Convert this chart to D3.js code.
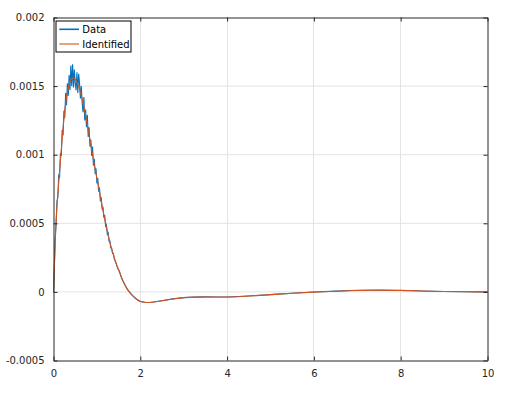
<!DOCTYPE html>
<meta charset="utf-8">
<style>
body { margin: 0; background: #fff; }
svg { display: block; font-family: "DejaVu Sans", sans-serif; }
.tick text { font-size: 10px; fill: #262626; }
</style>
<body>
<svg width="525" height="400"></svg>
<script src="https://d3js.org/d3.v7.min.js"></script>
<script>
// measured data (dense near the peak, sparse in the tail)
var dataT = [0, 0.02, 0.04, 0.06, 0.08, 0.10, 0.12, 0.14, 0.16, 0.18, 0.20, 0.22, 0.24, 0.26, 0.28, 0.30,
  0.32, 0.34, 0.36, 0.38, 0.40, 0.42, 0.44, 0.46, 0.48, 0.50, 0.52, 0.54, 0.56, 0.58, 0.60,
  0.62, 0.64, 0.66, 0.68, 0.70, 0.72, 0.74, 0.76, 0.78, 0.80, 0.82, 0.84, 0.86, 0.88, 0.90,
  0.92, 0.94, 0.96, 0.98, 1.00, 1.02, 1.04, 1.06, 1.08, 1.10, 1.12, 1.14, 1.16, 1.18, 1.20,
  1.22, 1.24, 1.26, 1.28, 1.30, 1.32, 1.34, 1.36, 1.38, 1.40, 1.44, 1.48, 1.52, 1.56, 1.60,
  1.7, 1.8, 1.9, 2.0, 2.1, 2.2, 2.3, 2.5, 2.75, 3.0, 3.25, 3.5, 3.75, 4.0, 4.25, 4.5, 4.75,
  5.0, 5.5, 6.0, 6.5, 7.0, 7.5, 8.0, 8.5, 9.0, 9.5, 10];
var dataY = [0, 0.00018, 0.00040, 0.00049, 0.00066, 0.00069, 0.00085, 0.00084, 0.00101, 0.00099, 0.00118,
  0.00114, 0.00132, 0.00127, 0.00145, 0.00136, 0.00152, 0.00143, 0.00158, 0.00147, 0.00165,
  0.00150, 0.00166, 0.00149, 0.00162, 0.00152, 0.00147, 0.00160, 0.00145, 0.00159, 0.00152,
  0.00141, 0.00150, 0.00138, 0.00131, 0.00142, 0.00125, 0.00133, 0.00120, 0.00129, 0.00113,
  0.00120, 0.00106, 0.00111, 0.00099, 0.00106, 0.00092, 0.00097, 0.00086, 0.00090, 0.00079,
  0.00083, 0.00073, 0.00076, 0.00066, 0.00069, 0.00060, 0.00062, 0.00054, 0.00056, 0.00048,
  0.00049, 0.00042, 0.00043, 0.00037, 0.00037, 0.00032, 0.00032, 0.00028, 0.00028, 0.00024,
  0.00021, 0.00017, 0.00015, 0.00011, 0.00008,
  0.00002, -0.00002, -0.00005, -0.00007, -0.000075, -0.000077, -0.000074, -0.000064, -0.000051,
  -0.000042, -0.000038, -0.000036, -0.000037, -0.000037, -0.000034, -0.00003, -0.000025,
  -0.00002, -0.00001, -0.000001, 0.000006, 0.000012, 0.000013, 0.000011, 0.000007, 0.000003, 0.000001, 0];

// identified model response
var idT = [0, 0.025, 0.05, 0.075, 0.1, 0.15, 0.2, 0.25, 0.3, 0.35, 0.4, 0.45, 0.5, 0.55, 0.6, 0.65,
  0.7, 0.75, 0.8, 0.85, 0.9, 0.95, 1.0, 1.05, 1.1, 1.15, 1.2, 1.3, 1.4, 1.5, 1.6, 1.7, 1.8, 1.9,
  2.0, 2.1, 2.2, 2.3, 2.5, 2.75, 3.0, 3.25, 3.5, 3.75, 4.0, 4.25, 4.5, 4.75, 5.0, 5.5, 6.0, 6.5,
  7.0, 7.5, 8.0, 8.5, 9.0, 9.5, 10];
var idY = [0, 0.00024, 0.00045, 0.00060, 0.00071, 0.00092, 0.00112, 0.00129, 0.00142, 0.00150,
  0.00155, 0.00156, 0.00155, 0.00152, 0.00148, 0.00142, 0.00135, 0.00127, 0.00118, 0.00109,
  0.00100, 0.00091, 0.00083, 0.00075, 0.00066, 0.00058, 0.00050, 0.00036, 0.00025, 0.00016,
  0.00008, 0.00002, -0.00002, -0.00005, -0.00007, -0.000075, -0.000077, -0.000074, -0.000064,
  -0.000052, -0.000042, -0.000038, -0.000037, -0.000037, -0.000037, -0.000035, -0.00003,
  -0.000025, -0.00002, -0.00001, -0.000002, 0.000005, 0.00001, 0.000012, 0.00001, 0.000007,
  0.000003, 0.000001, 0];

var xTicks = [0, 2, 4, 6, 8, 10];
var yTicks = [-0.0005, 0, 0.0005, 0.001, 0.0015, 0.002];
var yTickLabels = ["-0.0005", "0", "0.0005", "0.001", "0.0015", "0.002"];
var seriesNames = ["Data", "Identified"];
var colors = ["#0072bd", "#d95319"];

var svg = d3.select("svg"),
    margin = {top: 17.5, right: 37.5, bottom: 39.5, left: 53.5},
    width = +svg.attr("width") - margin.left - margin.right,
    height = +svg.attr("height") - margin.top - margin.bottom;

var x = d3.scaleLinear().domain([0, 10]).range([0, width]),
    y = d3.scaleLinear().domain([-0.0005, 0.002]).range([height, 0]);

var g = svg.append("g")
    .attr("transform", "translate(" + margin.left + "," + margin.top + ")");

// grid
g.append("g").selectAll("line").data(xTicks.slice(1, -1)).enter().append("line")
    .attr("x1", function(d) { return Math.round(x(d)) + 0.5 - 0.5; })
    .attr("x2", function(d) { return Math.round(x(d)) + 0.5 - 0.5; })
    .attr("y1", 0).attr("y2", height)
    .attr("stroke", "#e3e3e3").attr("stroke-width", 1);
g.append("g").selectAll("line").data(yTicks.slice(1, -1)).enter().append("line")
    .attr("y1", function(d) { return y(d); })
    .attr("y2", function(d) { return y(d); })
    .attr("x1", 0).attr("x2", width)
    .attr("stroke", "#e3e3e3").attr("stroke-width", 1);

// lines
var line = d3.line()
    .x(function(d) { return x(d[0]); })
    .y(function(d) { return y(d[1]); });

g.append("path")
    .datum(d3.zip(dataT, dataY))
    .attr("fill", "none")
    .attr("stroke", colors[0])
    .attr("stroke-width", 1.1)
    .attr("d", line);

g.append("path")
    .datum(d3.zip(idT, idY))
    .attr("fill", "none")
    .attr("stroke", colors[1])
    .attr("stroke-width", 1.1)
    .attr("d", line.curve(d3.curveMonotoneX));

// axes (ticks inside, mirrored on top/right)
var fmtY = function(d) { return yTickLabels[yTicks.indexOf(d)]; };

function styleAxis(sel) {
  sel.select(".domain").attr("stroke", "#262626");
  sel.selectAll(".tick line").attr("stroke", "#262626");
}

g.append("g")
    .attr("transform", "translate(0," + height + ")")
    .call(d3.axisBottom(x).tickValues(xTicks).tickSizeInner(-4).tickSizeOuter(0).tickPadding(9))
    .call(styleAxis);
g.append("g")
    .call(d3.axisTop(x).tickValues(xTicks).tickSizeInner(-4).tickSizeOuter(0).tickFormat(""))
    .call(styleAxis);
g.append("g")
    .call(d3.axisLeft(y).tickValues(yTicks).tickFormat(fmtY).tickSizeInner(-4).tickSizeOuter(0).tickPadding(9))
    .call(styleAxis);
g.append("g")
    .attr("transform", "translate(" + width + ",0)")
    .call(d3.axisRight(y).tickValues(yTicks).tickSizeInner(-4).tickSizeOuter(0).tickFormat(""))
    .call(styleAxis);

g.selectAll(".tick text").attr("font-family", "DejaVu Sans, sans-serif").attr("font-size", 10);

// legend
var leg = g.append("g").attr("transform", "translate(2.5,3.5)");
leg.append("rect")
    .attr("width", 75).attr("height", 31)
    .attr("fill", "#fff").attr("stroke", "#000").attr("stroke-width", 1);
seriesNames.forEach(function(name, i) {
  var yy = 8.3 + i * 14.7;
  leg.append("line")
      .attr("x1", 3.3).attr("x2", 23).attr("y1", yy).attr("y2", yy)
      .attr("stroke", colors[i]).attr("stroke-width", i === 0 ? 1.6 : 1.1);
  leg.append("text")
      .attr("x", 26.3).attr("y", yy)
      .attr("dy", "0.35em")
      .attr("font-size", 10)
      .attr("fill", "#000")
      .text(name);
});
</script>
</body>
